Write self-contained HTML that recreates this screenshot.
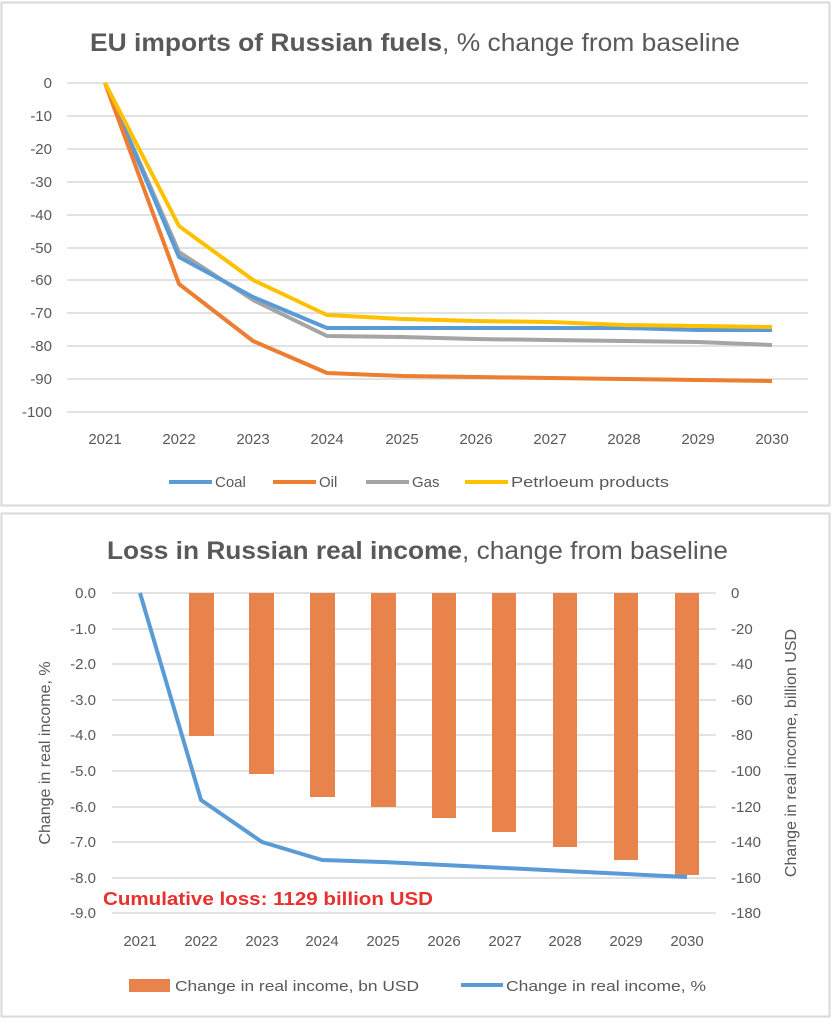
<!DOCTYPE html>
<html><head><meta charset="utf-8"><style>body{margin:0;background:#fff}svg{display:block;font-family:"Liberation Sans",sans-serif}</style></head><body>
<svg width="832" height="1023" viewBox="0 0 832 1023" xmlns="http://www.w3.org/2000/svg">
<rect x="0" y="0" width="832" height="1023" fill="#fff"/>
<rect x="1.5" y="2.5" width="828" height="503" fill="#fff" stroke="#d9d9d9" stroke-width="2"/>
<rect x="1.5" y="513.5" width="828" height="503" fill="#fff" stroke="#d9d9d9" stroke-width="2"/>
<text x="90" y="51" font-size="25" fill="#595959" textLength="650" lengthAdjust="spacingAndGlyphs"><tspan font-weight="bold">EU imports of Russian fuels</tspan>, % change from baseline</text>
<g stroke="#d9d9d9" stroke-width="1.5">
<line x1="67" x2="808" y1="83" y2="83"/><line x1="67" x2="808" y1="116" y2="116"/><line x1="67" x2="808" y1="149" y2="149"/><line x1="67" x2="808" y1="182" y2="182"/><line x1="67" x2="808" y1="215" y2="215"/><line x1="67" x2="808" y1="248" y2="248"/><line x1="67" x2="808" y1="280" y2="280"/><line x1="67" x2="808" y1="313" y2="313"/><line x1="67" x2="808" y1="346" y2="346"/><line x1="67" x2="808" y1="379" y2="379"/><line x1="67" x2="808" y1="412" y2="412"/>
</g>
<g font-size="15" fill="#595959" text-anchor="end">
<text x="52" y="88">0</text><text x="52" y="121">-10</text><text x="52" y="154">-20</text><text x="52" y="187">-30</text><text x="52" y="220">-40</text><text x="52" y="253">-50</text><text x="52" y="285">-60</text><text x="52" y="318">-70</text><text x="52" y="351">-80</text><text x="52" y="384">-90</text><text x="52" y="417">-100</text>
</g>
<g font-size="15" fill="#595959" text-anchor="middle">
<text x="105" y="444">2021</text><text x="179" y="444">2022</text><text x="253" y="444">2023</text><text x="327" y="444">2024</text><text x="402" y="444">2025</text><text x="476" y="444">2026</text><text x="550" y="444">2027</text><text x="624" y="444">2028</text><text x="698" y="444">2029</text><text x="772" y="444">2030</text>
</g>
<g fill="none" stroke-width="4" stroke-linejoin="round">
<polyline stroke="#a5a5a5" points="105,83 179,252 253,300 327,336 402,337 476,339 550,340 624,341 698,342 772,345"/>
<polyline stroke="#5b9bd5" points="105,83 179,257 253,297 327,328 402,328 476,328 550,328 624,328 698,330 772,330"/>
<polyline stroke="#ed7d31" points="105,83 179,284 253,341 327,373 402,376 476,377 550,378 624,379 698,380 772,381"/>
<polyline stroke="#ffc000" points="105,83 179,226 253,280 327,315 402,319 476,321 550,322 624,325 698,326 772,327"/>
</g>
<g font-size="15" fill="#595959">
<line x1="169" x2="212" y1="482" y2="482" stroke="#5b9bd5" stroke-width="4"/><text x="215" y="487">Coal</text>
<line x1="273" x2="316" y1="482" y2="482" stroke="#ed7d31" stroke-width="4"/><text x="319" y="487">Oil</text>
<line x1="366" x2="409" y1="482" y2="482" stroke="#a5a5a5" stroke-width="4"/><text x="412" y="487">Gas</text>
<line x1="465" x2="508" y1="482" y2="482" stroke="#ffc000" stroke-width="4"/><text x="511" y="487" textLength="158" lengthAdjust="spacingAndGlyphs">Petrloeum products</text>
</g>

<text x="107" y="559" font-size="25" fill="#595959" textLength="621" lengthAdjust="spacingAndGlyphs"><tspan font-weight="bold">Loss in Russian real income</tspan>, change from baseline</text>
<g stroke="#d9d9d9" stroke-width="1.5">
<line x1="112" x2="716" y1="593" y2="593"/><line x1="112" x2="716" y1="629" y2="629"/><line x1="112" x2="716" y1="664" y2="664"/><line x1="112" x2="716" y1="700" y2="700"/><line x1="112" x2="716" y1="735" y2="735"/><line x1="112" x2="716" y1="771" y2="771"/><line x1="112" x2="716" y1="807" y2="807"/><line x1="112" x2="716" y1="842" y2="842"/><line x1="112" x2="716" y1="878" y2="878"/><line x1="112" x2="716" y1="913" y2="913"/>
</g>
<g fill="#e8834c">
<rect x="189" y="593" width="25" height="143"/><rect x="249" y="593" width="25" height="181"/><rect x="310" y="593" width="25" height="204"/><rect x="371" y="593" width="25" height="214"/><rect x="432" y="593" width="24" height="225"/><rect x="492" y="593" width="24" height="239"/><rect x="553" y="593" width="24" height="254"/><rect x="614" y="593" width="24" height="267"/><rect x="675" y="593" width="24" height="282"/>
</g>
<polyline fill="none" stroke="#5b9bd5" stroke-width="4" stroke-linejoin="round" points="140,593 201,800 262,842 322,860 383,862 444,865 505,868 565,871 626,874 687,877"/>
<g font-size="15" fill="#595959" text-anchor="end">
<text x="96" y="598">0.0</text><text x="96" y="634">-1.0</text><text x="96" y="669">-2.0</text><text x="96" y="705">-3.0</text><text x="96" y="740">-4.0</text><text x="96" y="776">-5.0</text><text x="96" y="812">-6.0</text><text x="96" y="847">-7.0</text><text x="96" y="883">-8.0</text><text x="96" y="918">-9.0</text>
</g>
<g font-size="15" fill="#595959" text-anchor="start">
<text x="731" y="598">0</text><text x="731" y="634">-20</text><text x="731" y="669">-40</text><text x="731" y="705">-60</text><text x="731" y="740">-80</text><text x="731" y="776">-100</text><text x="731" y="812">-120</text><text x="731" y="847">-140</text><text x="731" y="883">-160</text><text x="731" y="918">-180</text>
</g>
<text transform="translate(50,753) rotate(-90)" text-anchor="middle" font-size="16" fill="#595959">Change in real income, %</text>
<text transform="translate(796,753) rotate(-90)" text-anchor="middle" font-size="16" fill="#595959">Change in real income, billion USD</text>
<text x="103" y="905" font-size="18" font-weight="bold" fill="#e8302e" textLength="330" lengthAdjust="spacingAndGlyphs">Cumulative loss: 1129 billion USD</text>
<g font-size="15" fill="#595959" text-anchor="middle">
<text x="140" y="946">2021</text><text x="201" y="946">2022</text><text x="262" y="946">2023</text><text x="322" y="946">2024</text><text x="383" y="946">2025</text><text x="444" y="946">2026</text><text x="505" y="946">2027</text><text x="565" y="946">2028</text><text x="626" y="946">2029</text><text x="687" y="946">2030</text>
</g>
<g font-size="15" fill="#595959">
<rect x="129" y="979" width="41" height="13" fill="#e8834c"/><text x="175" y="991" textLength="244" lengthAdjust="spacingAndGlyphs">Change in real income, bn USD</text>
<line x1="461" x2="503" y1="985" y2="985" stroke="#5b9bd5" stroke-width="4"/><text x="506" y="991" textLength="200" lengthAdjust="spacingAndGlyphs">Change in real income, %</text>
</g>
</svg>
</body></html>
